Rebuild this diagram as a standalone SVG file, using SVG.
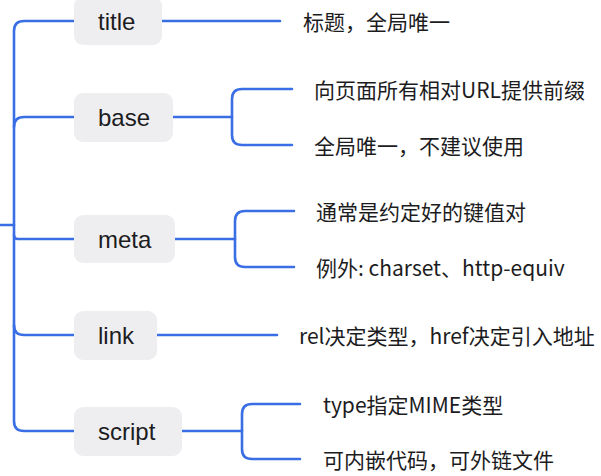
<svg xmlns="http://www.w3.org/2000/svg" width="601" height="476" viewBox="0 0 601 476">
<style>
.bg{fill:#ffffff}
.box{fill:#EEEEF1}
.lbl{font-family:"Liberation Sans","Noto Sans CJK SC",sans-serif;font-size:24px;fill:#1c1c1e;dominant-baseline:central}
.txt{font-family:"Noto Sans CJK SC","Liberation Sans",sans-serif;font-size:21px;fill:#1c1c1e;dominant-baseline:central}
.ln{fill:none;stroke:#3A6EE4;stroke-width:2.6;stroke-linecap:round;stroke-linejoin:round}
</style>
<rect class="bg" x="0" y="0" width="601" height="476"/>
<g id="connectors">
<path class="ln" d="M0,225 H14"/>
<path class="ln" d="M74,21 H24 Q14,21 14,31 V421 Q14,431 24,431 H74"/>
<path class="ln" d="M14,127 Q14,117 24,117 H74"/>
<path class="ln" d="M14,235 Q14,239 18,239 H74"/>
<path class="ln" d="M14,325 Q14,335 24,335 H74"/>
<path class="ln" d="M162,21 H280"/>
<path class="ln" d="M173,117 H232"/>
<path class="ln" d="M292,89 H242 Q232,89 232,99 V135 Q232,145 242,145 H292"/>
<path class="ln" d="M175,239 H235"/>
<path class="ln" d="M294,211 H245 Q235,211 235,221 V257 Q235,267 245,267 H294"/>
<path class="ln" d="M157,335 H277"/>
<path class="ln" d="M182,431 H242"/>
<path class="ln" d="M300,404 H252 Q242,404 242,414 V449 Q242,459 252,459 H300"/>
</g>
<g id="n-title"><rect class="box" x="74" y="-3" width="88" height="48" rx="9"/><text class="lbl" x="98" y="21">title</text></g>
<g id="n-base"><rect class="box" x="74" y="93" width="99" height="49" rx="9"/><text class="lbl" x="98" y="117">base</text></g>
<g id="n-meta"><rect class="box" x="74" y="215" width="101" height="48" rx="9"/><text class="lbl" x="98" y="239">meta</text></g>
<g id="n-link"><rect class="box" x="74" y="311" width="83" height="49" rx="9"/><text class="lbl" x="98" y="335">link</text></g>
<g id="n-script"><rect class="box" x="74" y="407" width="108" height="49" rx="9"/><text class="lbl" x="98" y="431">script</text></g>
<g id="t-title"><text class="txt" x="303" y="21">标题，全局唯一</text></g>
<g id="t-base1"><text class="txt" x="314" y="89">向页面所有相对URL提供前缀</text></g>
<g id="t-base2"><text class="txt" x="314" y="145">全局唯一，不建议使用</text></g>
<g id="t-meta1"><text class="txt" x="316" y="211">通常是约定好的键值对</text></g>
<g id="t-meta2"><text class="txt" x="316" y="267">例外: charset、http-equiv</text></g>
<g id="t-link"><text class="txt" x="299" y="335">rel决定类型，href决定引入地址</text></g>
<g id="t-script1"><text class="txt" x="323" y="404">type指定MIME类型</text></g>
<g id="t-script2"><text class="txt" x="323" y="459">可内嵌代码，可外链文件</text></g>
</svg>
